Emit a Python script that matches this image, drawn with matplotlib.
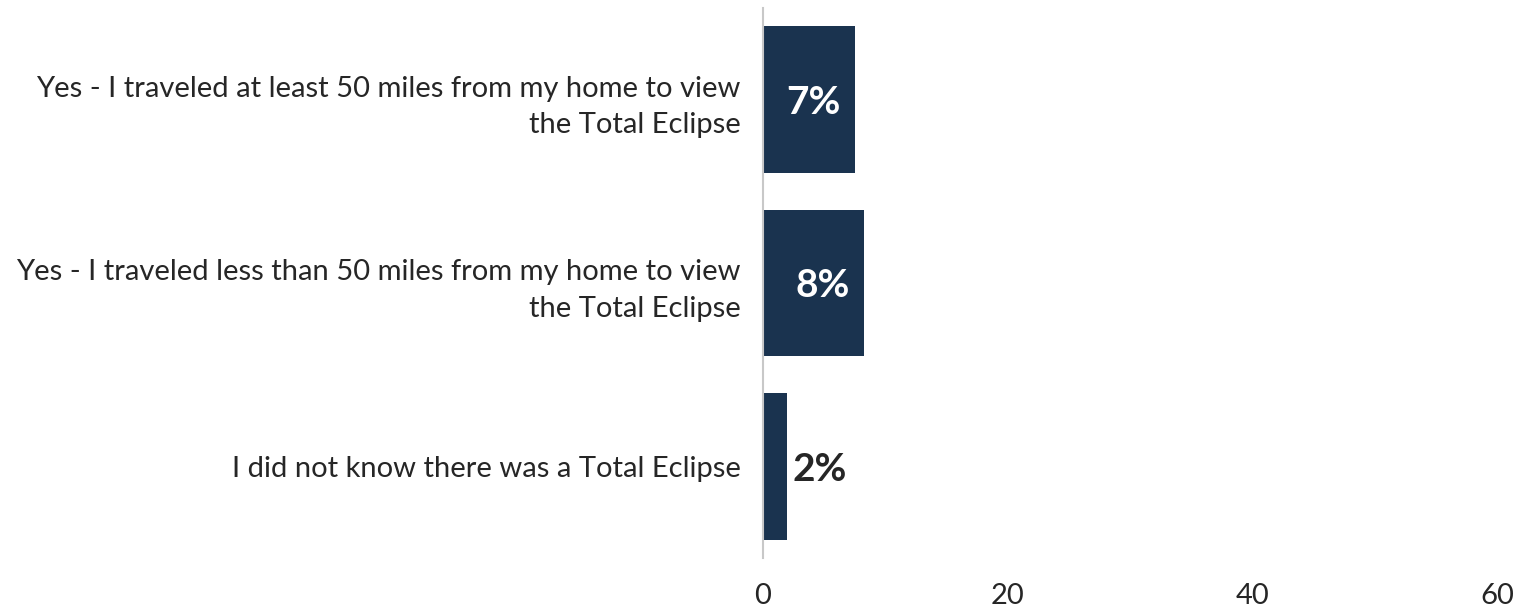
import matplotlib
matplotlib.use('Agg')
import matplotlib.pyplot as plt

categories = [
    'Yes - I traveled at least 50 miles from my home to view\nthe Total Eclipse',
    'Yes - I traveled less than 50 miles from my home to view\nthe Total Eclipse',
    'I did not know there was a Total Eclipse',
]
values = [7.5, 8.3, 1.95]
labels = ['7%', '8%', '2%']
ticks = [0, 20, 40, 60]

plt.rcParams['font.family'] = ['Lato', 'DejaVu Sans']

fig = plt.figure(figsize=(15.18, 6.08), dpi=100)
ax = fig.add_axes([0.5026, 0.0822, 0.4836, 0.905])

pos = list(range(len(categories)))
bars = ax.barh(pos, values, height=0.8, color='#1a334f')
ax.set_ylim(2.5, -0.5)
ax.set_xlim(0, 60)

ax.set_yticks(pos)
ax.set_yticklabels(categories, fontsize=21, color='#262626', ha='right', linespacing=1.5)
ax.set_xticks(ticks)
ax.set_xticklabels([str(t) for t in ticks], fontsize=21, color='#262626')
ax.tick_params(axis='both', length=0)
ax.tick_params(axis='y', pad=16)
ax.tick_params(axis='x', pad=18)

for s in ['top', 'right', 'bottom']:
    ax.spines[s].set_visible(False)
ax.spines['left'].set_color('#c8c8c8')
ax.spines['left'].set_linewidth(1.5)

for b, lab, v in zip(bars, labels, values):
    y = b.get_y() + b.get_height() / 2
    if v > 4:
        ax.annotate(lab, (v, y), xytext=(-10.5, -2), textcoords='offset points',
                    ha='right', va='center', fontsize=28, fontweight='bold', color='white')
    else:
        ax.annotate(lab, (v, y), xytext=(4, -2), textcoords='offset points',
                    ha='left', va='center', fontsize=28, fontweight='bold', color='#262626')

fig.savefig('out.png', dpi=100)
